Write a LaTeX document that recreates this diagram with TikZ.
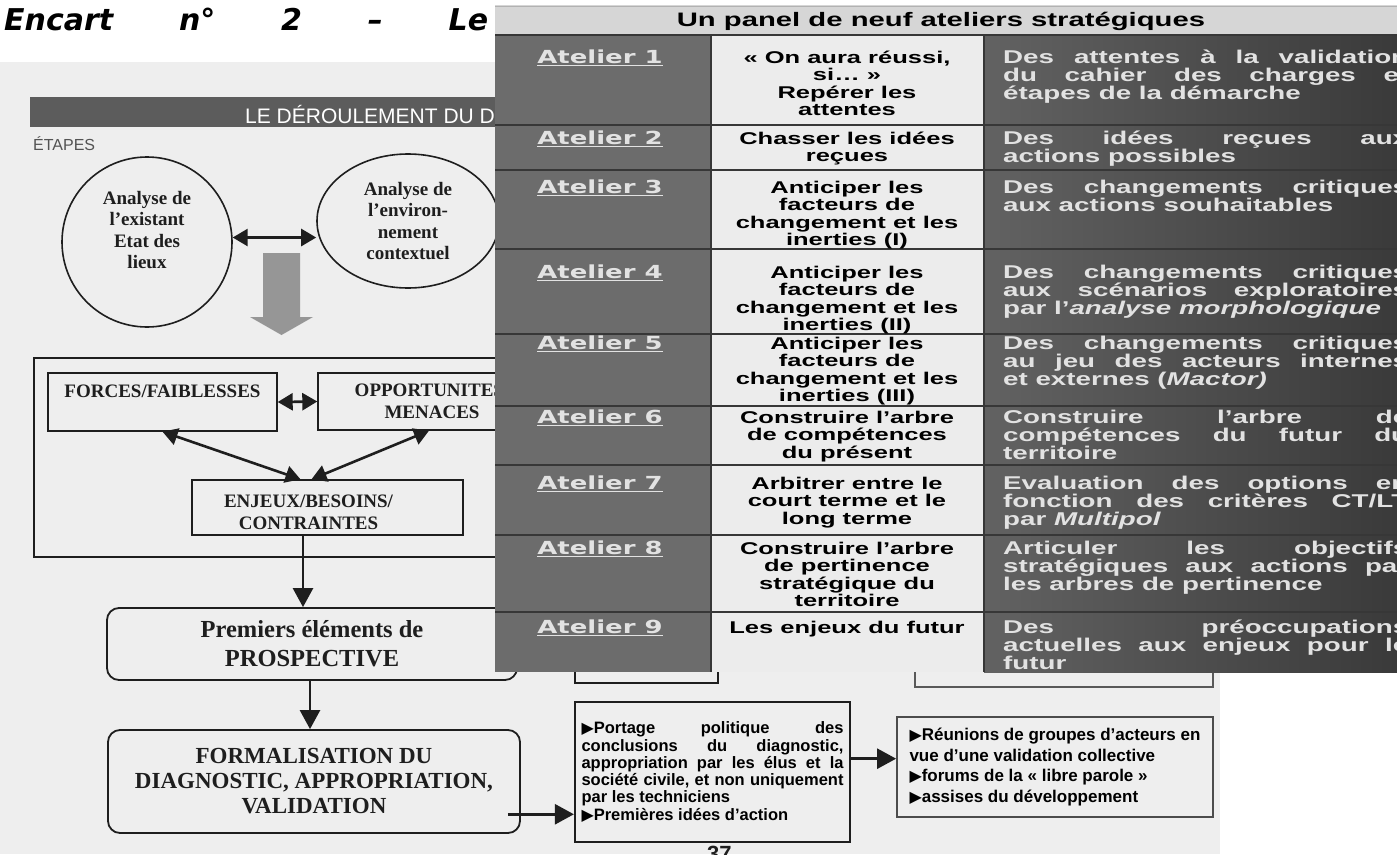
\documentclass[tikz,border=0pt]{standalone}
\usepackage{fontspec}
\setmainfont{Liberation Serif}
\setsansfont{Liberation Sans}
\newfontfamily\titlefont{DejaVu Sans}
\newfontfamily\tabfont{Liberation Sans}[FakeStretch=1.5]
\newfontfamily\labfont{DejaVu Sans}[FakeStretch=1.44]
\newfontfamily\symfont{DejaVu Sans}
\usetikzlibrary{arrows.meta,shapes.geometric}
\definecolor{ink}{RGB}{30,30,30}
\definecolor{scanbg}{RGB}{238,238,238}
\definecolor{bargrey}{RGB}{92,92,92}
\definecolor{blockgrey}{RGB}{150,150,150}
\definecolor{hdrgrey}{RGB}{214,214,214}
\definecolor{colone}{RGB}{108,108,108}
\definecolor{coltwo}{RGB}{236,236,236}
\definecolor{colthreea}{RGB}{98,98,98}
\definecolor{colthreeb}{RGB}{58,58,58}
\definecolor{gridline}{RGB}{55,55,55}
\definecolor{paletext}{RGB}{226,226,226}
\newcommand{\tri}{{\symfont\fontsize{16}{16}\selectfont▶}}
\newcommand{\jl}[1]{\makebox[405pt][s]{#1}}
\newcommand{\pl}[1]{\makebox[262pt][s]{#1}}

\begin{document}
\begin{tikzpicture}[x=1pt,y=-1pt,line join=miter]
  \tikzstyle{bubble}=[draw=ink,line width=1.6pt,inner sep=0pt]
  \tikzstyle{serif_txt}=[font=\rmfamily\bfseries\fontsize{19}{21.5}\selectfont,text=ink,align=center]
  \tikzstyle{box}=[draw=ink,line width=1.4pt,inner sep=0pt,serif_txt]
  \tikzstyle{rbox}=[box,rounded corners=12pt,line width=1.8pt]
  \tikzstyle{note}=[draw=ink,line width=2.2pt,inner sep=0pt,font=\sffamily\bfseries\fontsize{16.5}{17.3}\selectfont,align=left]
  \tikzstyle{arr}=[line width=2.6pt,draw=ink,-{Triangle[length=19pt,width=20pt]}]
  \tikzstyle{dbl}=[line width=2.6pt,draw=ink,{Triangle[length=15pt,width=17pt]}-{Triangle[length=15pt,width=17pt]}]
  \tikzstyle{atelier}=[font=\labfont\bfseries\fontsize{18}{18}\selectfont,text=paletext,anchor=base]
  \tikzstyle{task}=[font=\tabfont\bfseries\fontsize{17}{17.2}\selectfont,text=black,align=center,anchor=north,inner sep=0pt]
  \tikzstyle{goal}=[font=\tabfont\bfseries\fontsize{18.5}{18}\selectfont,text=paletext,align=left,anchor=north west,inner sep=0pt]

  \useasboundingbox (0,0) rectangle (1397,854);
  \fill[white] (0,0) rectangle (1397,854);
  \fill[scanbg] (0,62) rectangle (1220,854);

  \node[font=\titlefont\bfseries\itshape\fontsize{30}{30}\selectfont,anchor=base west,inner sep=0pt] (title) at (4,30) {\makebox[484pt][s]{Encart n° 2 – Le}};
  \fill[bargrey] (30,97) rectangle (495,127);
  \node[font=\sffamily\fontsize{21}{21}\selectfont,text=white,anchor=base west,inner sep=0pt] (bartitle) at (245,123) {LE DÉROULEMENT DU D};
  \node[font=\sffamily\fontsize{16}{16}\selectfont,text=gray!65!black,anchor=base west,inner sep=0pt] (etapes) at (33,150) {ÉTAPES};

  \node[bubble,circle,minimum size=170pt,label={[serif_txt,yshift=12pt]center:{Analyse de\\l'existant\\Etat des\\lieux}}] (exist) at (147,242) {};
  \node[bubble,ellipse,minimum width=182pt,minimum height=134pt,serif_txt] (envir) at (408,221) {Analyse de\\l'environ-\\nement\\contextuel};
  \draw[dbl] (exist.3) -- (exist.3 -| envir.west);
  \fill[blockgrey] (263,253) -- (300,253) -- (300,317) -- (313,317) -- (281.5,335) -- (250,317) -- (263,317) -- cycle;

  \node[box,line width=2pt,minimum width=486pt,minimum height=199pt] (diag) at (277,457.5) {};
  \node[box,minimum width=229pt,minimum height=58pt] (forces) at (162.5,402) {FORCES/FAIBLESSES\\\mbox{}};
  \node[box,minimum width=228pt,minimum height=57pt] (opp) at (432,401.5) {OPPORTUNITES/\\MENACES};
  \node[box,minimum width=271pt,minimum height=55pt,label={[serif_txt,xshift=-19pt,yshift=-5pt]center:{ENJEUX/BESOINS/\\CONTRAINTES}}] (enjeux) at (327.5,507.5) {};
  \draw[dbl] (forces.east) -- (opp.west);
  \draw[dbl] (forces.south) -- ([xshift=-27pt]enjeux.north);
  \draw[dbl] ([xshift=-3pt]opp.south) -- ([xshift=-16pt]enjeux.north);

  \node[rbox,minimum width=410pt,minimum height=72pt,font=\rmfamily\bfseries\fontsize{24.5}{29}\selectfont] (prem) at (312,644) {Premiers éléments de\\PROSPECTIVE};
  \node[rbox,minimum width=412pt,minimum height=103pt,font=\rmfamily\bfseries\fontsize{23}{25}\selectfont] (form) at (314,781.5) {FORMALISATION DU\\DIAGNOSTIC, APPROPRIATION,\\VALIDATION};
  \draw[arr] ([xshift=-9pt]prem.north |- enjeux.south) -- ([xshift=-9pt]prem.north);
  \draw[arr] ([xshift=-2pt]prem.south) -- ([xshift=-2pt]prem.south |- form.north);

  \node[note,minimum width=143pt,minimum height=80pt] (prev) at (646.5,643) {};
  \node[note,draw=gray!70!black,line width=1.6pt,minimum width=298pt,minimum height=80pt] (light) at (1064,647) {};
  \node[note,minimum width=275pt,minimum height=140pt] (prt) at (712.5,772) {\pl{\tri Portage politique des}\\\pl{conclusions du diagnostic,}\\\pl{appropriation par les élus et la}\\\pl{société civile, et non uniquement}\\par les techniciens\\\tri Premières idées d'action};
  \node[note,draw=gray!60!black,line width=1.8pt,minimum width=316pt,minimum height=100pt,font=\sffamily\bfseries\fontsize{17}{20.5}\selectfont] (reun) at (1055,767) {\tri Réunions de groupes d'acteurs en\\vue d'une validation collective\\\tri forums de la « libre parole »\\\tri assises du développement};
  \draw[arr] ([xshift=-13pt]form.-9.6) -- (form.-9.6 -| prt.west);
  \draw[arr] (prt.east |- reun.177.5) -- (reun.177.5);
  \node[font=\sffamily\bfseries\fontsize{22}{22}\selectfont,text=ink,anchor=base west,inner sep=0pt] (page) at (707,861) {37};

  \fill[hdrgrey] (495,5) rectangle (1397,35);
  \draw[gray!60,line width=1pt] (495,6) -- (1397,6);
  \node[font=\tabfont\bfseries\fontsize{19.5}{19.5}\selectfont,inner sep=0pt] (panel) at (941,21) {Un panel de neuf ateliers stratégiques};
  \fill[colone] (495,35) rectangle (711,672);
  \fill[coltwo] (711,35) rectangle (984,672);
  \shade[left color=colthreea,right color=colthreeb] (984,35) rectangle (1397,672);
  \foreach \yy in {35,125,170,249,334,406,465,535,612}
    \draw[gridline,line width=1.2pt] (495,\yy) -- (1397,\yy);
  \draw[gridline,line width=1.2pt] (711,35) -- (711,672) (984,35) -- (984,672);
  \foreach \n/\yy in {1/57,2/138,3/187,4/272,5/343,6/417,7/483,8/548,9/627}
    \node[atelier] (a\n) at (600,\yy+6.5) {\underline{Atelier \n}};

  \node[task] (t1) at (847,49.5) {\rule{0pt}{14pt}« On aura réussi,\\si… »\\Repérer les\\attentes};
  \node[task] (t2) at (847,130.5) {\rule{0pt}{14pt}Chasser les idées\\reçues};
  \node[task] (t3) at (847,179.5) {\rule{0pt}{14pt}Anticiper les\\facteurs de\\changement et les\\inerties (I)};
  \node[task] (t4) at (847,264.5) {\rule{0pt}{14pt}Anticiper les\\facteurs de\\changement et les\\inerties (II)};
  \node[task] (t5) at (847,335.5) {\rule{0pt}{14pt}Anticiper les\\facteurs de\\changement et les\\inerties (III)};
  \node[task] (t6) at (847,409.5) {\rule{0pt}{14pt}Construire l’arbre\\de compétences\\du présent};
  \node[task] (t7) at (847,475.5) {\rule{0pt}{14pt}Arbitrer entre le\\court terme et le\\long terme};
  \node[task] (t8) at (847,540.5) {\rule{0pt}{14pt}Construire l’arbre\\de pertinence\\stratégique du\\territoire};
  \node[task] (t9) at (847,619.5) {\rule{0pt}{14pt}Les enjeux du futur};

  \node[goal] (d1) at (1003,49.5) {\rule{0pt}{14pt}\jl{Des attentes à la validation}\\\jl{du cahier des charges et}\\étapes de la démarche};
  \node[goal] (d2) at (1003,130.5) {\rule{0pt}{14pt}\jl{Des idées reçues aux}\\actions possibles};
  \node[goal] (d3) at (1003,179.5) {\rule{0pt}{14pt}\jl{Des changements critiques}\\aux actions souhaitables};
  \node[goal] (d4) at (1003,264.5) {\rule{0pt}{14pt}\jl{Des changements critiques}\\\jl{aux scénarios exploratoires}\\par l’\textit{analyse morphologique}};
  \node[goal] (d5) at (1003,335.5) {\rule{0pt}{14pt}\jl{Des changements critiques}\\\jl{au jeu des acteurs internes}\\et externes (\textit{Mactor)}};
  \node[goal] (d6) at (1003,409.5) {\rule{0pt}{14pt}\jl{Construire l’arbre de}\\\jl{compétences du futur du}\\territoire};
  \node[goal] (d7) at (1003,475.5) {\rule{0pt}{14pt}\jl{Evaluation des options en}\\\jl{fonction des critères CT/LT}\\par \textit{Multipol}};
  \node[goal] (d8) at (1003,540.5) {\rule{0pt}{14pt}\jl{Articuler les objectifs}\\\jl{stratégiques aux actions par}\\les arbres de pertinence};
  \node[goal] (d9) at (1003,619.5) {\rule{0pt}{14pt}\jl{Des préoccupations}\\\jl{actuelles aux enjeux pour le}\\futur};
\end{tikzpicture}
\end{document}
